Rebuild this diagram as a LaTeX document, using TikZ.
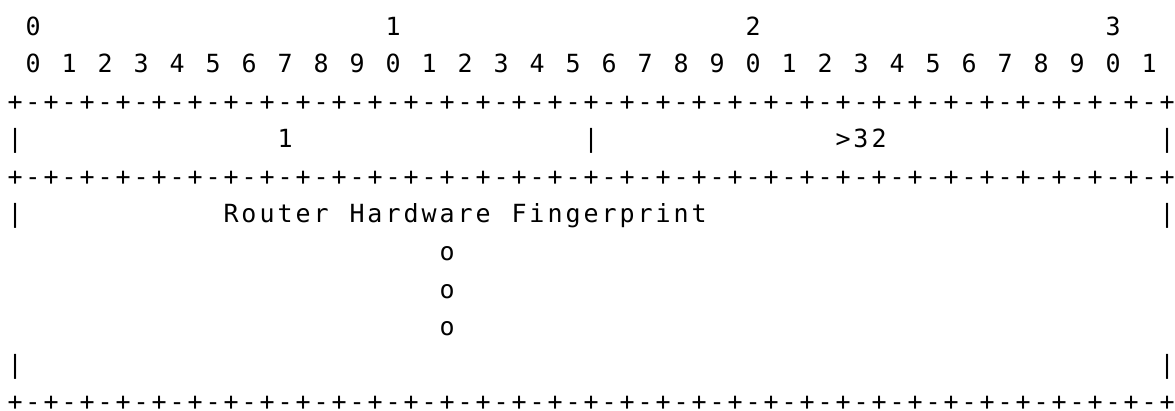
\documentclass[tikz,border=0pt]{standalone}
\usepackage{fontspec}
\newfontfamily\artfont{DejaVu Sans Mono}[LetterSpace=11.8]
\begin{document}
\begin{tikzpicture}[x=1pt,y=1pt,
    txt/.style={anchor=base west, inner sep=0pt, outer sep=0pt,
                font=\artfont\fontsize{25}{36}\selectfont}]
    \useasboundingbox (0,0) rectangle (1175,410);
    % column c, line l at ({7.5+18*c},{374.5-37.5*l})
    \foreach \d in {0,1,2,3}
        \node[txt] (top\d) at ({7.5+18*(1+20*\d)},374.5) {\d};
    \foreach \b in {0,...,31}{
        \pgfmathtruncatemacro\u{mod(\b,10)}
        \node[txt] (bit\b) at ({7.5+18*(1+2*\b)},337) {\u};
    }
    \foreach \l/\n in {2/rulea,4/ruleb,10/rulec}
        \node[txt] (\n) at (7.5,{374.5-37.5*\l}) {+-+-+-+-+-+-+-+-+-+-+-+-+-+-+-+-+-+-+-+-+-+-+-+-+-+-+-+-+-+-+-+-+};
    % first field row
    \node[txt] (barla) at (7.5,262) {|};
    \node[txt] (type) at ({7.5+18*15},262) {1};
    \node[txt] (barma) at ({7.5+18*32},262) {|};
    \node[txt] (len) at ({7.5+18*46},262) {>32};
    \node[txt] (barra) at ({7.5+18*64},262) {|};
    % value rows
    \node[txt] (barlb) at (7.5,187) {|};
    \node[txt] (wrouter) at ({7.5+18*12},187) {Router};
    \node[txt] (whardware) at ({7.5+18*19},187) {Hardware};
    \node[txt] (wfinger) at ({7.5+18*28},187) {Fingerprint};
    \node[txt] (barrb) at ({7.5+18*64},187) {|};
    \foreach \l in {6,7,8}
        \node[txt] (dot\l) at ({7.5+18*24},{374.5-37.5*\l}) {o};
    \node[txt] (barlc) at (7.5,37) {|};
    \node[txt] (barrc) at ({7.5+18*64},37) {|};
\end{tikzpicture}
\end{document}
